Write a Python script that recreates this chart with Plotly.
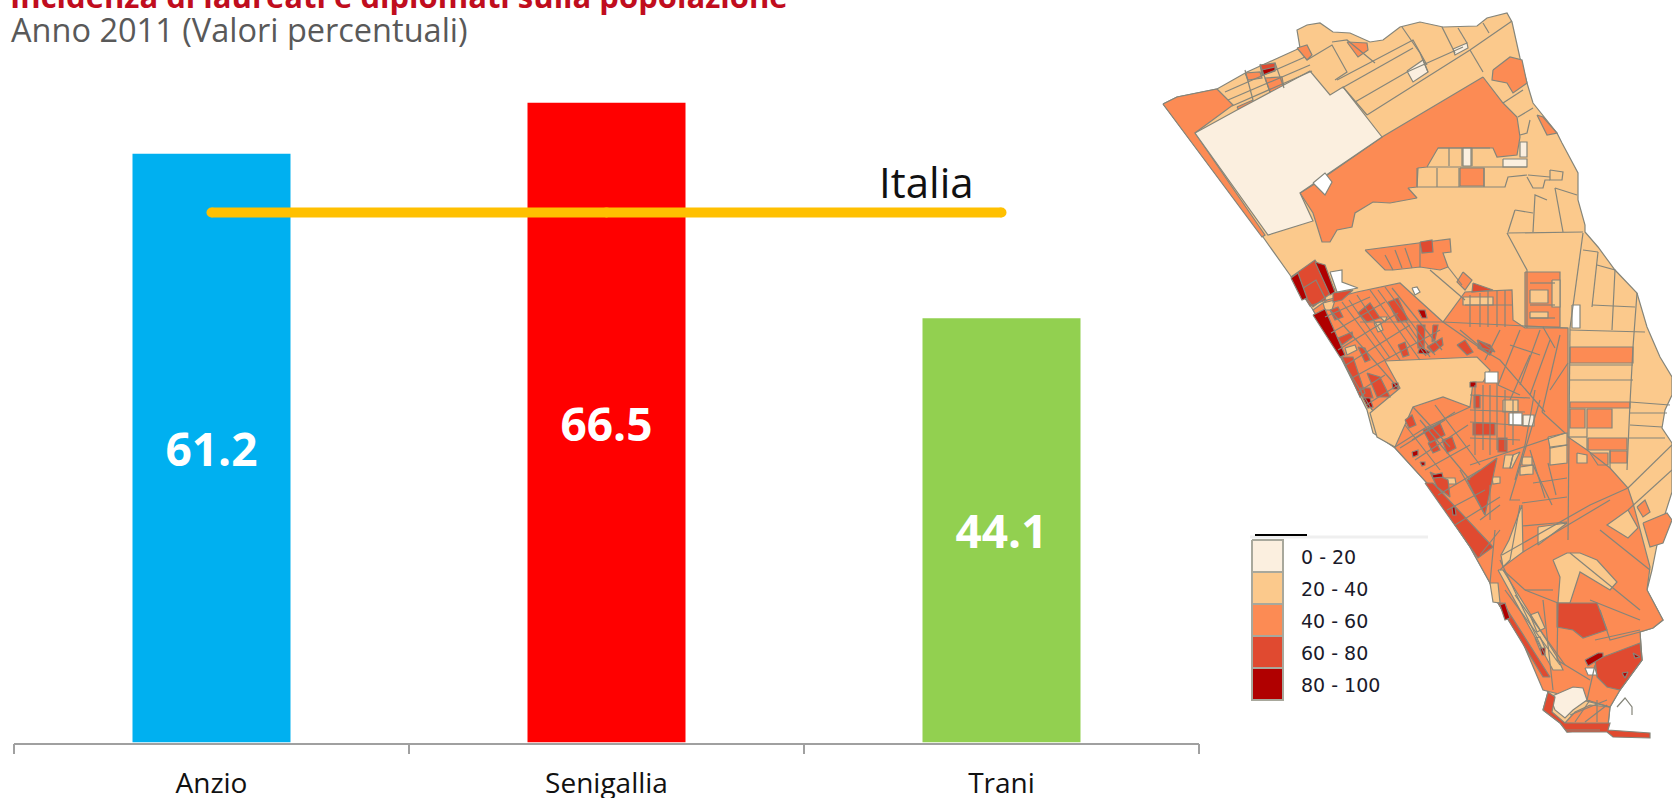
import plotly.graph_objects as go

# ---------- bar chart data ----------
categories = ["Anzio", "Senigallia", "Trani"]
values = [61.2, 66.5, 44.1]
italia = [55.1, 55.1, 55.1]
bar_colors = ["#00B0F0", "#FF0000", "#92D050"]
title_text = "Incidenza di laureati e diplomati sulla popolazione"
subtitle_text = "Anno 2011 (Valori percentuali)"
legend_labels = ["0 - 20", "20 - 40", "40 - 60", "60 - 80", "80 - 100"]
class_colors = ["#FBEFDF", "#FBC98C", "#FC8B54", "#E04A30", "#B00000"]
GREY = "#85857A"

def R(x0, y0, x1, y1):
    return [(x0, y0), (x1, y0), (x1, y1), (x0, y1)]

# ---------- map in page pixels ----------
outline = [[(1163,104),(1177,97),(1217,89),(1247,72),(1300,48),(1297,30),(1307,25),(1320,23),(1333,32),(1350,33),
  (1370,42),(1383,40),(1400,27),(1420,22),(1443,27),(1477,26),(1487,18),(1507,13),(1512,22),(1517,43),(1520,58),
  (1527,83),(1533,103),(1557,133),(1562,143),(1578,173),(1578,200),(1585,225),(1585,232),(1598,247),(1615,270),
  (1637,293),(1647,327),(1660,357),(1672,377),(1672,395),(1665,410),(1662,428),(1672,443),(1672,492),(1660,530),
  (1652,570),(1647,590),(1663,620),(1653,628),(1640,632),(1642,660),(1620,690),(1610,707),(1608,727),(1567,732),
  (1560,723),(1543,710),(1548,692),(1542,683),(1523,643),(1498,603),(1490,583),(1470,547),(1427,483),(1395,448),
  (1373,433),(1367,410),(1337,350),(1313,310),(1290,275),(1263,237)]]

north_orange = [
  [(1163,104),(1177,97),(1217,89),(1233,105),(1195,133),(1265,235),(1262,237)],
  [(1483,77),(1503,103),(1517,117),(1520,137),(1517,155),(1497,157),(1493,148),(1438,148),(1427,167),(1418,168),
   (1417,187),(1408,188),(1417,198),(1390,203),(1373,202),(1355,213),(1352,227),(1337,230),(1330,242),(1322,242),
   (1313,213),(1300,193),(1313,185),(1330,173),(1382,137)],
  [(1493,70),(1510,57),(1522,60),(1527,83),(1513,93),(1507,83),(1492,80)],
  [(1537,115),(1543,117),(1557,133),(1547,135)],
  [(1347,42),(1367,43),(1368,50),(1358,57)],
  [(1297,48),(1307,45),(1312,55),(1307,60)],
  R(1460,168,1484,186),
  [(1245,73),(1260,72),(1262,78),(1248,80)],
  [(1265,78),(1282,77),(1284,88),(1270,92)],
  [(1237,107),(1253,100),(1252,107),(1240,112)],
  [(1365,250),(1450,239),(1451,252),(1443,253),(1448,267),(1440,270),(1420,267),(1393,270),(1385,270)],
  [(1463,272),(1472,280),(1465,290),(1457,282)],
  R(1525,272,1560,327),
]

south_orange = [
  [(1313,310),(1327,300),(1357,292),(1400,283),(1443,322),(1455,305),(1465,292),(1512,290),(1513,320),(1525,328),
   (1568,328),(1568,437),(1587,450),(1610,468),(1628,488),(1633,503),(1650,567),(1647,590),(1663,620),(1653,628),
   (1640,632),(1642,660),(1620,690),(1610,707),(1543,690),(1523,643),(1498,603),(1490,583),(1470,547),(1427,483),(1395,448)],
  R(1570,347,1633,363), R(1570,402,1630,408), R(1570,409,1585,428), R(1587,409,1612,428), R(1588,438,1627,450),
  R(1610,451,1627,463), [(1590,453),(1608,453),(1608,465),(1598,465)],
  [(1643,523),(1667,513),(1672,520),(1663,543),(1650,547)],
  [(1637,507),(1645,500),(1650,512),(1643,517)],
  [(1565,723),(1575,712),(1590,705),(1610,707),(1608,725)],
]

peach_patches = [
  [(1385,361),(1477,357),(1490,370),(1483,382),(1473,382),(1470,407),(1443,397),(1413,407),(1395,447),(1377,437),(1370,413),(1400,388)],
  [(1522,505),(1509,540),(1501,555),(1503,567),(1523,552),(1522,525)],
  [(1538,527),(1567,523),(1538,545)],
  [(1550,447),(1567,445),(1567,463),(1550,465)],
  [(1548,437),(1567,433),(1567,445),(1550,448)],
  [(1553,560),(1560,577),(1558,603),(1570,603),(1580,572),(1598,583),(1610,590),(1617,582),(1597,560),(1580,553),(1567,553)],
  [(1628,510),(1638,528),(1628,538),(1607,525)],
  [(1490,583),(1498,583),(1500,603),(1493,602)],
  [(1498,570),(1503,570),(1557,657),(1563,670),(1553,670)],
  R(1503,400,1518,412), R(1463,297,1493,305),
  [(1505,455),(1513,455),(1510,468),(1503,468)],
  [(1513,455),(1520,452),(1512,468),(1510,468)],
  [(1522,457),(1532,457),(1532,465),(1522,465)],
  [(1520,467),(1533,465),(1533,474),(1520,475)],
  [(1492,477),(1500,477),(1500,483),(1493,484)],
  [(1323,303),(1335,300),(1332,310),(1325,310)],
  [(1345,348),(1355,345),(1357,350),(1347,355)],
  [(1374,323),(1380,322),(1383,330),(1378,332)],
  [(1380,317),(1387,317),(1385,322)],
  [(1577,453),(1587,455),(1587,463),(1577,463)],
  R(1530,290,1548,303), R(1530,312,1548,318),
  R(1552,280,1560,307),
  [(1535,638),(1540,637),(1545,648),(1540,650)],
  [(1530,615),(1538,612),(1545,628),(1537,632)],
  [(1443,478),(1455,478),(1456,484),(1444,484)],
]

cream = [
  [(1195,133),(1237,110),(1310,71),(1330,95),(1343,87),(1382,137),(1300,193),(1313,221),(1268,235)],
  [(1407,71),(1423,60),(1428,72),(1413,82)],
  [(1453,49),(1467,43),(1468,48),(1455,55)],
  R(1463,148,1471,166), R(1503,159,1527,167), R(1520,142,1527,157),
  [(1550,697),(1573,687),(1583,688),(1587,700),(1573,710),(1565,718),(1555,710)],
  R(1523,415,1534,426),
]

red = [
  [(1291,277),(1315,260),(1335,290),(1313,307)],
  [(1333,293),(1353,290),(1342,300),(1333,302)],
  [(1358,313),(1370,303),(1380,318),(1367,322)],
  [(1388,302),(1398,298),(1408,320),(1398,322)],
  [(1330,310),(1338,307),(1343,317),(1335,320)],
  [(1338,338),(1352,332),(1353,337),(1342,345)],
  [(1417,325),(1425,325),(1424,348),(1418,348)],
  [(1433,325),(1438,325),(1435,340),(1432,342)],
  [(1427,347),(1442,338),(1443,345),(1433,353)],
  [(1398,345),(1405,342),(1409,355),(1403,357)],
  [(1457,345),(1465,340),(1473,352),(1467,355)],
  [(1478,340),(1493,350),(1490,355),(1478,348)],
  [(1358,347),(1365,348),(1370,360),(1365,362)],
  [(1342,357),(1353,357),(1365,393),(1360,397)],
  [(1367,373),(1380,377),(1390,397),(1377,397)],
  [(1360,388),(1370,388),(1373,398),(1363,398)],
  [(1473,283),(1493,290),(1472,292)],
  [(1477,340),(1490,345),(1495,352),(1482,348)],
  R(1473,423,1495,435), R(1498,438,1507,452),
  [(1423,430),(1440,423),(1445,435),(1430,443)],
  [(1442,440),(1452,437),(1456,448),(1447,453)],
  [(1428,443),(1435,440),(1440,450),(1433,453)],
  [(1430,472),(1448,480),(1450,497),(1437,487)],
  [(1497,458),(1485,515),(1467,480)],
  [(1425,483),(1433,483),(1493,547),(1478,558)],
  [(1498,603),(1503,603),(1550,677),(1543,677)],
  [(1557,603),(1597,603),(1607,630),(1583,638),(1573,630),(1557,627)],
  [(1595,660),(1640,643),(1642,660),(1620,690),(1607,687),(1597,677)],
  [(1543,710),(1548,692),(1555,697),(1552,712),(1565,723),(1610,723),(1608,730),(1650,733),(1650,738),(1613,737),(1607,732),(1567,732),(1560,723)],
  [(1420,242),(1432,240),(1433,252),(1422,253)],
  [(1260,65),(1275,63),(1275,70),(1262,75)],
  [(1300,290),(1316,280),(1326,300),(1310,306)],
  [(1405,420),(1412,415),(1416,425),(1409,428)],
  [(1474,395),(1480,395),(1480,408),(1474,408)],
]

dark = [
  [(1291,278),(1298,273),(1307,298),(1302,300)],
  [(1315,262),(1325,265),(1335,292),(1330,295)],
  [(1313,315),(1325,309),(1345,355),(1340,357)],
  [(1418,310),(1425,310),(1427,318),(1422,318)],
  [(1420,347),(1430,352),(1428,354),(1418,353)],
  [(1363,398),(1370,398),(1373,407),(1368,408)],
  [(1392,383),(1398,383),(1398,389),(1393,389)],
  [(1470,382),(1476,382),(1476,387),(1470,387)],
  [(1412,452),(1418,450),(1418,455),(1413,457)],
  [(1432,475),(1442,473),(1443,477),(1433,478)],
  [(1452,507),(1455,507),(1456,515),(1453,515)],
  [(1420,462),(1425,462),(1425,465),(1422,466)],
  [(1262,70),(1275,67),(1275,71),(1263,75)],
  [(1585,660),(1598,653),(1603,653),(1603,657),(1588,666)],
  [(1500,605),(1505,603),(1510,618),(1505,620)],
  [(1540,648),(1545,648),(1545,655),(1542,655)],
  [(1633,653),(1640,657),(1635,658)],
  [(1622,673),(1628,672),(1625,678)],
]

holes = [
  [(1313,183),(1325,173),(1332,182),(1325,195)],
  [(1330,272),(1342,270),(1342,282),(1358,288),(1337,292)],
  R(1485,372,1498,383),
  R(1509,413,1522,425),
  [(1412,288),(1417,287),(1420,292),(1415,295)],
  R(1572,305,1580,328),
  [(1585,668),(1595,668),(1597,675),(1588,675)],
]

streets = [
  # north
  [(1307,60),(1332,45),(1347,72),(1335,80)], [(1337,80),(1413,40),(1427,65)], [(1332,42),(1347,40),(1375,63)],
  [(1367,115),(1470,50),(1512,21)], [(1355,102),(1407,72),(1463,47)], [(1342,88),(1413,48)],
  [(1402,27),(1420,53),(1428,72)], [(1442,27),(1455,53)], [(1458,28),(1467,43)], [(1470,50),(1483,72)],
  [(1483,23),(1489,33)], [(1343,87),(1367,115)], [(1225,92),(1305,57)], [(1228,100),(1310,65)], [(1232,106),(1312,71)],
  [(1245,70),(1253,100)], [(1260,64),(1270,92)], [(1275,63),(1284,88)],
  [(1427,167),(1527,167)], [(1417,168),(1417,187)], [(1417,187),(1492,187),(1505,187),(1508,177),(1527,175)],
  [(1437,168),(1437,187)], [(1459,168),(1459,187)], [(1484,168),(1484,187)],
  [(1449,148),(1449,166)], [(1462,148),(1462,166)], [(1472,148),(1472,166)], [(1438,148),(1490,148)],
  [(1528,175),(1550,177)], [(1527,177),(1533,188),(1543,188),(1545,180),(1550,180)],
  [(1550,170),(1563,172),(1562,180),(1550,180),(1550,170)], [(1555,188),(1577,195)],
  [(1547,200),(1535,195),(1533,232)], [(1555,188),(1563,232)], [(1507,233),(1583,232)],
  [(1515,210),(1533,213)], [(1515,210),(1508,232)], [(1507,233),(1527,270),(1527,328)],
  [(1583,233),(1570,328)],
  [(1503,103),(1523,90)], [(1518,117),(1533,108)], [(1530,120),(1527,133),(1520,135)],
  [(1583,250),(1598,252)], [(1598,252),(1592,307)], [(1597,265),(1615,270),(1612,330)],
  [(1592,305),(1635,307)], [(1637,293),(1633,347),(1630,403),(1627,470)], [(1570,330),(1645,332)],
  [(1630,402),(1670,405)], [(1630,413),(1667,413)], [(1630,425),(1662,427)], [(1628,438),(1665,438)],
  [(1570,380),(1633,380)], [(1570,365),(1633,365)], [(1570,328),(1568,540)],
  [(1430,270),(1448,285),(1465,300)], [(1448,267),(1462,285)], [(1385,255),(1393,270)], [(1405,248),(1412,268)],
  [(1420,244),(1420,267)], [(1395,250),(1402,268)],
  # town, north-east running
  [(1325,317),(1370,297)], [(1331,333),(1385,302)], [(1338,350),(1398,313)], [(1346,365),(1410,325)],
  [(1352,378),(1440,330)], [(1358,392),(1385,375)], [(1366,405),(1398,385)], [(1360,322),(1443,322)],
  # town, south-east running
  [(1357,295),(1400,360)], [(1370,290),(1420,360)], [(1385,287),(1435,355)], [(1342,302),(1385,360)],
  [(1330,310),(1398,388)], [(1405,320),(1430,357)], [(1349,300),(1390,358)], [(1378,290),(1426,356)],
  [(1392,288),(1442,350)], [(1345,365),(1372,410)],
  # blocks north of the town axis
  [(1470,295),(1470,327)], [(1480,293),(1480,327)], [(1488,290),(1488,327)], [(1497,290),(1497,327)],
  [(1505,290),(1505,327)], [(1465,305),(1512,305)], [(1443,322),(1568,328)], [(1530,283),(1555,283)],
  [(1530,305),(1555,305)], [(1530,318),(1555,318)], [(1543,327),(1555,348)],
  [(1443,322),(1483,350),(1500,360),(1545,412)], [(1460,330),(1490,355)], [(1500,330),(1485,360)],
  [(1520,330),(1498,385)], [(1540,330),(1520,385)], [(1550,340),(1530,395)], [(1560,335),(1542,412)],
  [(1510,345),(1540,355)], [(1498,385),(1520,395)], [(1510,400),(1530,355)], [(1568,363),(1550,390)],
  # central grid
  [(1475,385),(1475,455)], [(1483,385),(1483,450)], [(1490,385),(1490,455)], [(1497,383),(1497,450)],
  [(1505,390),(1505,450)], [(1513,400),(1513,445)], [(1470,395),(1530,398)], [(1470,410),(1525,412)],
  [(1470,422),(1530,426)], [(1470,438),(1520,440)], [(1542,412),(1565,433),(1470,465)], [(1535,390),(1525,445),(1515,480)],
  # town 2
  [(1395,447),(1425,428),(1470,407)], [(1413,407),(1450,447)], [(1405,425),(1440,470)], [(1420,420),(1470,480)],
  [(1435,405),(1480,465)], [(1415,460),(1468,425)], [(1425,470),(1470,445)], [(1400,448),(1445,420)],
  [(1412,440),(1455,412)], [(1438,495),(1480,470)], [(1447,510),(1485,490)], [(1455,525),(1500,497)],
  [(1460,470),(1485,515)], [(1490,485),(1490,520)],
  # south
  [(1522,503),(1567,497)], [(1522,526),(1567,522)], [(1540,400),(1510,500),(1520,500)], [(1533,465),(1552,505)],
  [(1548,463),(1556,495)], [(1533,483),(1567,478)], [(1530,450),(1545,498)], [(1520,505),(1510,560),(1500,570)],
  [(1502,555),(1590,505),(1628,488)], [(1568,525),(1610,500)], [(1523,552),(1568,525)],
  [(1587,450),(1587,428)], [(1568,437),(1587,437)], [(1610,468),(1610,450)],
  [(1600,530),(1650,570)], [(1570,553),(1640,610)], [(1628,488),(1672,445)], [(1628,510),(1672,470)],
  [(1503,570),(1525,590),(1558,603)], [(1525,590),(1553,590)], [(1543,600),(1553,690)],
  [(1500,560),(1545,655)], [(1480,555),(1500,530)], [(1480,520),(1500,505)], [(1495,530),(1490,583)],
  [(1505,590),(1560,665)], [(1515,595),(1565,665)], [(1558,603),(1557,660)], [(1557,660),(1590,680)],
  [(1600,610),(1610,640),(1640,632)], [(1590,600),(1640,620)], [(1595,640),(1640,630)],
  [(1587,700),(1595,665)], [(1587,700),(1610,707)], [(1597,700),(1597,722)], [(1575,722),(1590,700)], [(1585,722),(1607,705)],
  [(1570,715),(1607,700)],
  # pier
  [(1617,707),(1625,698),(1632,707),(1632,715)], [(1565,730),(1600,730)],
]

def flatten(polys, close=True):
    xs, ys = [], []
    for p in polys:
        pts = p + [p[0]] if close else p
        xs += [a for a, _ in pts] + [None]
        ys += [b for _, b in pts] + [None]
    return xs, ys

fig = go.Figure()
fig.add_bar(x=categories, y=values, marker=dict(color=bar_colors, line_width=0),
            text=[f"{v:.1f}" for v in values], textposition="inside", insidetextanchor="middle",
            textangle=0, constraintext="none",
            textfont=dict(family="Open Sans", size=46, color="white", weight="bold"),
            showlegend=False, hoverinfo="skip")
fig.add_scatter(x=categories, y=italia, mode="lines+markers",
                line=dict(color="#FFC000", width=10), marker=dict(color="#FFC000", size=10),
                showlegend=False, hoverinfo="skip")

layers = [(outline, 1), (north_orange, 2), (south_orange, 2), (peach_patches, 1), (cream, 0), (red, 3), (dark, 4)]
for polys, c in layers:
    xs, ys = flatten(polys)
    fig.add_scatter(x=xs, y=ys, xaxis="x2", yaxis="y2", mode="lines", fill="toself", fillcolor=class_colors[c],
                    line=dict(color=GREY, width=1.2), showlegend=False, hoverinfo="skip")
xs, ys = flatten(holes)
fig.add_scatter(x=xs, y=ys, xaxis="x2", yaxis="y2", mode="lines", fill="toself", fillcolor="#FFFFFF",
                line=dict(color=GREY, width=1.2), showlegend=False, hoverinfo="skip")
xs, ys = flatten(streets, close=False)
fig.add_scatter(x=xs, y=ys, xaxis="x2", yaxis="y2", mode="lines", line=dict(color=GREY, width=1.2),
                showlegend=False, hoverinfo="skip")

# map legend
fig.add_scatter(x=[1250, 1428], y=[537, 537], xaxis="x2", yaxis="y2", mode="lines",
                line=dict(color="#EFEFEF", width=3), showlegend=False, hoverinfo="skip")
fig.add_scatter(x=[1255, 1307], y=[535, 535], xaxis="x2", yaxis="y2", mode="lines",
                line=dict(color="#000000", width=2), showlegend=False, hoverinfo="skip")
annotations = []
for i, (lab, col) in enumerate(zip(legend_labels, class_colors)):
    xs, ys = flatten([R(1252, 540 + 32 * i, 1283, 572 + 32 * i)])
    fig.add_scatter(x=xs, y=ys, xaxis="x2", yaxis="y2", mode="lines", fill="toself", fillcolor=col,
                    line=dict(color="#A8A89C", width=2), showlegend=False, hoverinfo="skip")
    annotations.append(dict(text=lab, x=1299, y=557 + 32 * i, xref="x2", yref="y2", xanchor="left", yanchor="middle",
                            showarrow=False, font=dict(family="DejaVu Sans", size=19, color="#1A1A2A")))

annotations += [
    dict(text=title_text, x=8, y=0, yshift=4, xref="x2", yref="y2", xanchor="left", yanchor="middle", showarrow=False,
         font=dict(family="Open Sans", size=31, color="#C00D1E", weight="bold")),
    dict(text=subtitle_text, x=9, y=29, xref="x2", yref="y2", xanchor="left", yanchor="middle", showarrow=False,
         font=dict(family="Open Sans", size=32.5, color="#595959")),
    dict(text="Italia", x=926, y=181, xref="x2", yref="y2", xanchor="center", yanchor="middle", showarrow=False,
         font=dict(family="Open Sans", size=42, color="#111111")),
]

W, H = 1672, 798
fig.update_layout(
    width=W, height=H, margin=dict(l=0, r=0, t=0, b=0), paper_bgcolor="white", plot_bgcolor="rgba(0,0,0,0)",
    bargap=0.6, annotations=annotations,
    xaxis=dict(domain=[14 / W, 1199 / W], type="category", range=[-0.5, 2.5], tickson="boundaries", ticks="outside",
               ticklen=10, tickwidth=1.5, tickcolor="#A0A0A0", showline=True, linecolor="#A0A0A0", linewidth=1.5,
               showgrid=False, ticklabelstandoff=15, tickfont=dict(family="Open Sans", size=28, color="#111111"),
               anchor="y", automargin=False),
    yaxis=dict(domain=[1 - 742.5 / H, 1 - 62.5 / H], range=[0, 680 / 9.62], visible=False, anchor="x", automargin=False),
    xaxis2=dict(domain=[0, 1], range=[0, W], visible=False, anchor="y2", automargin=False),
    yaxis2=dict(domain=[0, 1], range=[H, 0], visible=False, anchor="x2", automargin=False),
)
fig.write_html("out.html", config={"displayModeBar": False}, post_script="document.body.style.margin='0';")
